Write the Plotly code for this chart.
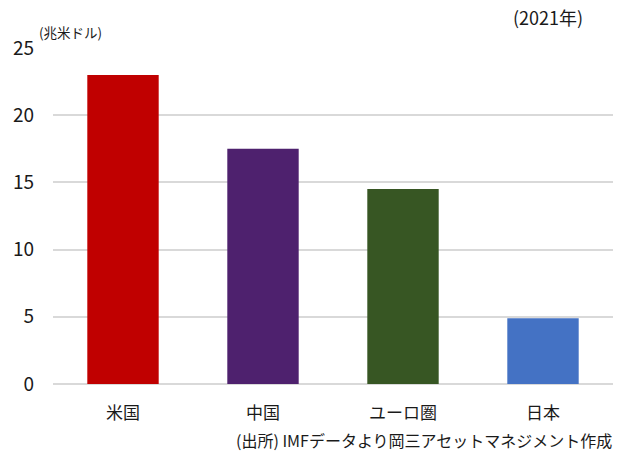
import plotly.graph_objects as go

categories = ["米国", "中国", "ユーロ圏", "日本"]
values = [23.0, 17.5, 14.5, 4.9]
colors = ["#C00000", "#4E216E", "#375623", "#4472C4"]
tick_vals = [0, 5, 10, 15, 20, 25]

FONT = "Noto Sans CJK JP"
TXT = "#1a1a1a"

W, H = 626, 451
l, r, t, b = 53, 13, 48, 67
pw, ph = W - l - r, H - t - b

fig = go.Figure()
fig.add_trace(go.Bar(x=categories, y=values, marker=dict(color=colors, line=dict(width=0)),
                     width=0.51))

def ann(text, px, py, xa, size):
    return dict(text=text, xref="paper", yref="paper",
                x=(px - l) / pw, y=(H - b - py) / ph,
                xanchor=xa, yanchor="middle", showarrow=False,
                font=dict(size=size, family=FONT, color=TXT))

fig.update_layout(
    width=W, height=H,
    margin=dict(l=l, r=r, t=t, b=b),
    paper_bgcolor="white", plot_bgcolor="white",
    showlegend=False,
    font=dict(family=FONT, color=TXT),
    xaxis=dict(showgrid=False, showline=False, ticks="", tickfont=dict(size=17, family=FONT, color=TXT),
               ticklabelstandoff=17),
    yaxis=dict(range=[0, 25], tickvals=tick_vals, showgrid=True, gridcolor="#D9D9D9", gridwidth=1.5,
               zeroline=True, zerolinecolor="#D9D9D9", zerolinewidth=1.5,
               tickfont=dict(size=19, family=FONT, color=TXT), ticklabelstandoff=18),
    annotations=[
        ann("(兆米ドル)", 37, 32, "left", 13.5),
        ann("(2021年)", 548, 17, "center", 18),
        ann("(出所) IMFデータより岡三アセットマネジメント作成", 614, 440, "right", 16),
    ],
)

fig.write_html("out.html")
